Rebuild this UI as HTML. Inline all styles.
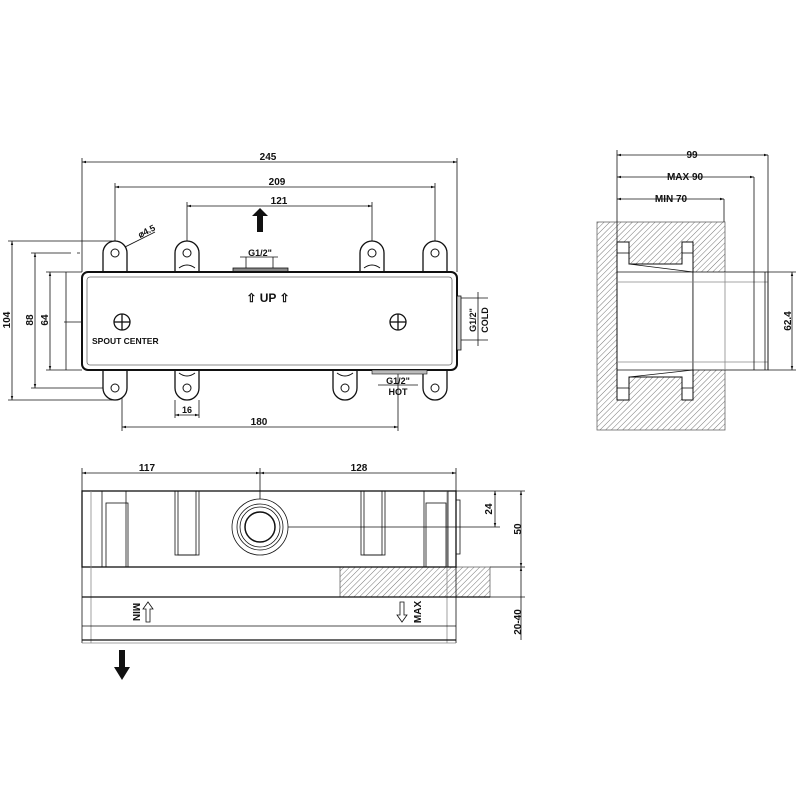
<!DOCTYPE html>
<html><head><meta charset="utf-8"><style>
html,body{margin:0;padding:0;background:#fff;}
svg{display:block;}
text{font-family:"Liberation Sans",Arial,sans-serif;font-weight:bold;fill:#111;}
</style></head><body>
<svg width="800" height="799" viewBox="0 0 800 799" xmlns="http://www.w3.org/2000/svg">
<defs>
<pattern id="h" width="4" height="4" patternUnits="userSpaceOnUse" patternTransform="rotate(45)">
<line x1="0" y1="0" x2="0" y2="4" stroke="#555" stroke-width="0.8"/>
</pattern>
<marker id="a" viewBox="0 0 10 10" refX="10" refY="5" markerWidth="7" markerHeight="5" orient="auto-start-reverse"><path d="M0,2 L10,5 L0,8z" fill="#111"/></marker>
<g id="tab" fill="#fff" stroke="#111" stroke-width="1.3">
<path d="M-12,19 L-12,0 A12,12 0 0 1 12,0 L12,19"/>
<circle cx="0" cy="0" r="4" stroke-width="1"/>
</g>
</defs>
<g stroke="#111" fill="none" stroke-width="0.8">
<!-- top dims -->
<line x1="82" y1="162" x2="457" y2="162" marker-start="url(#a)" marker-end="url(#a)"/>
<line x1="82" y1="158" x2="82" y2="272"/><line x1="457" y1="158" x2="457" y2="272"/>
<line x1="115" y1="187" x2="435" y2="187" marker-start="url(#a)" marker-end="url(#a)"/>
<line x1="115" y1="183" x2="115" y2="253"/><line x1="435" y1="183" x2="435" y2="253"/>
<line x1="187" y1="206" x2="372" y2="206" marker-start="url(#a)" marker-end="url(#a)"/>
<line x1="187" y1="202" x2="187" y2="253"/><line x1="372" y1="202" x2="372" y2="253"/>
<line x1="119" y1="250" x2="155" y2="232"/>
<!-- left dims -->
<line x1="12" y1="241" x2="12" y2="400" marker-start="url(#a)" marker-end="url(#a)"/>
<line x1="8" y1="241" x2="112" y2="241"/><line x1="8" y1="400" x2="112" y2="400"/>
<line x1="35" y1="253" x2="35" y2="388" marker-start="url(#a)" marker-end="url(#a)"/>
<line x1="31" y1="253" x2="80" y2="253" stroke-dasharray="40,6"/><line x1="31" y1="388" x2="112" y2="388"/>
<line x1="50" y1="272" x2="50" y2="370" marker-start="url(#a)" marker-end="url(#a)"/>
<line x1="46" y1="272" x2="82" y2="272"/><line x1="46" y1="370" x2="82" y2="370"/>
<line x1="66" y1="272" x2="66" y2="370"/>
<line x1="64" y1="322" x2="122" y2="322"/>
<!-- bottom dims -->
<line x1="175" y1="400" x2="175" y2="418"/><line x1="199" y1="400" x2="199" y2="418"/>
<line x1="175" y1="415" x2="199" y2="415" marker-start="url(#a)" marker-end="url(#a)"/>
<line x1="122" y1="322" x2="122" y2="431"/><line x1="398" y1="322" x2="398" y2="431"/>
<line x1="122" y1="427" x2="398" y2="427" marker-start="url(#a)" marker-end="url(#a)"/>
</g>
<!-- tabs -->
<use href="#tab" x="115" y="253"/><use href="#tab" x="187" y="253"/><use href="#tab" x="372" y="253"/><use href="#tab" x="435" y="253"/>
<use href="#tab" x="115" y="388" transform="rotate(180 115 388) translate(0 0)"/>
<g transform="rotate(180 187 388)"><use href="#tab" x="187" y="388"/></g>
<g transform="rotate(180 345 388)"><use href="#tab" x="345" y="388"/></g>
<g transform="rotate(180 435 388)"><use href="#tab" x="435" y="388"/></g>
<g stroke="#111" fill="none" stroke-width="1">
<path d="M179,268 q8,-6 16,0"/><path d="M364,268 q8,-6 16,0"/>
<path d="M179,373 q8,6 16,0"/><path d="M337,373 q8,6 16,0"/>
</g>
<!-- body top view -->
<rect x="233" y="268" width="55" height="5" fill="#888" stroke="#111" stroke-width="0.8"/>
<rect x="82" y="272" width="375" height="98" rx="6" fill="#fff" stroke="#111" stroke-width="2"/>
<rect x="87" y="277" width="365" height="88" rx="3" fill="none" stroke="#666" stroke-width="0.8"/>
<rect x="457" y="296" width="4" height="54" fill="#ccc" stroke="#111" stroke-width="0.8"/>
<rect x="372" y="370" width="55" height="4" fill="#bbb" stroke="#111" stroke-width="0.6"/>
<g stroke="#111" fill="none" stroke-width="1.3">
<circle cx="122" cy="322" r="8"/><line x1="114" y1="322" x2="130" y2="322"/><line x1="122" y1="314" x2="122" y2="330"/>
<circle cx="398" cy="322" r="8"/><line x1="390" y1="322" x2="406" y2="322"/><line x1="398" y1="314" x2="398" y2="330"/>
</g>
<g stroke="#111" stroke-width="0.8">
<line x1="246" y1="257" x2="246" y2="268"/><line x1="273" y1="257" x2="273" y2="268"/>
<line x1="240" y1="257" x2="278" y2="257"/>
<line x1="461" y1="298" x2="488" y2="298"/><line x1="461" y1="340" x2="488" y2="340"/>
<line x1="478" y1="292" x2="478" y2="346"/>
<line x1="378" y1="385" x2="418" y2="385"/>
</g>
<path d="M257,232 L263,232 L263,216 L268,216 L260,208 L252,216 L257,216z" fill="#111"/>
<text x="260" y="256" font-size="9" text-anchor="middle">G1/2"</text>
<text x="268" y="302" font-size="12" text-anchor="middle">⇧ UP ⇧</text>
<text x="92" y="344" font-size="8.5">SPOUT  CENTER</text>
<text x="398" y="384" font-size="9" text-anchor="middle">G1/2"</text>
<text x="398" y="395" font-size="9" text-anchor="middle">HOT</text>
<text transform="translate(476,320) rotate(-90)" font-size="9" text-anchor="middle">G1/2"</text>
<text transform="translate(488,320) rotate(-90)" font-size="9" text-anchor="middle">COLD</text>
<text x="268" y="160" font-size="10" text-anchor="middle">245</text>
<text x="277" y="185" font-size="10" text-anchor="middle">209</text>
<text x="279" y="204" font-size="10" text-anchor="middle">121</text>
<text transform="translate(140,238) rotate(-27)" font-size="9">⌀4.5</text>
<text transform="translate(10,320) rotate(-90)" font-size="10" text-anchor="middle">104</text>
<text transform="translate(33,320) rotate(-90)" font-size="10" text-anchor="middle">88</text>
<text transform="translate(48,320) rotate(-90)" font-size="10" text-anchor="middle">64</text>
<text x="187" y="413" font-size="9" text-anchor="middle">16</text>
<text x="259" y="425" font-size="10" text-anchor="middle">180</text>

<!-- side view -->
<rect x="597" y="222" width="128" height="208" fill="url(#h)" stroke="#666" stroke-width="0.8"/>
<path d="M617,242 L629,242 L629,264 L682,264 L682,242 L693,242 L693,400 L682,400 L682,377 L629,377 L629,400 L617,400z" fill="#fff" stroke="#111" stroke-width="1"/>
<rect x="693" y="272" width="75" height="98" fill="#fff" stroke="#111" stroke-width="0.8"/>
<g stroke="#111" stroke-width="0.8" fill="none">
<line x1="617" y1="272" x2="693" y2="272"/><line x1="617" y1="282" x2="768" y2="282" stroke="#888"/>
<line x1="617" y1="370" x2="693" y2="370"/><line x1="617" y1="362" x2="768" y2="362" stroke="#888"/>
<line x1="629" y1="264" x2="693" y2="272"/><line x1="629" y1="377" x2="693" y2="370"/>
<line x1="617" y1="388" x2="629" y2="388"/><line x1="682" y1="388" x2="693" y2="388"/>
<line x1="617" y1="253" x2="629" y2="253"/><line x1="682" y1="253" x2="693" y2="253"/>
<line x1="725" y1="272" x2="725" y2="370" stroke="#888"/>
<line x1="754" y1="177" x2="754" y2="370"/><line x1="765" y1="272" x2="765" y2="370"/>
<line x1="768" y1="155" x2="768" y2="370"/>
<line x1="617" y1="150" x2="617" y2="242"/>
<line x1="724" y1="199" x2="724" y2="222"/>
<line x1="617" y1="155" x2="768" y2="155" marker-start="url(#a)" marker-end="url(#a)"/>
<line x1="617" y1="177" x2="754" y2="177" marker-start="url(#a)" marker-end="url(#a)"/>
<line x1="617" y1="199" x2="724" y2="199" marker-start="url(#a)" marker-end="url(#a)"/>
<line x1="768" y1="272" x2="796" y2="272"/><line x1="768" y1="370" x2="796" y2="370"/>
<line x1="792" y1="272" x2="792" y2="370" marker-start="url(#a)" marker-end="url(#a)"/>
</g>
<text x="692" y="158" font-size="10" text-anchor="middle">99</text>
<text x="685" y="180" font-size="10" text-anchor="middle">MAX  90</text>
<text x="671" y="202" font-size="10" text-anchor="middle">MIN  70</text>
<text transform="translate(791,321) rotate(-90)" font-size="10" text-anchor="middle">62.4</text>

<!-- bottom view -->
<rect x="340" y="567" width="150" height="30" fill="url(#h)" stroke="#666" stroke-width="0.8"/>
<g stroke="#111" fill="none" stroke-width="0.8">
<rect x="82" y="491" width="374" height="76" stroke-width="1.3"/>
<line x1="82" y1="567" x2="82" y2="643"/><line x1="456" y1="567" x2="456" y2="643"/>
<line x1="91" y1="491" x2="91" y2="643" stroke="#888"/><line x1="447" y1="491" x2="447" y2="643" stroke="#888"/>
<line x1="82" y1="597" x2="490" y2="597" stroke-width="1.2"/>
<line x1="82" y1="626" x2="456" y2="626"/>
<line x1="82" y1="640" x2="456" y2="640" stroke-width="1.3"/>
<line x1="82" y1="643" x2="456" y2="643" stroke="#888"/>
<rect x="102" y="491" width="24" height="76"/><rect x="106" y="503" width="22" height="64"/>
<rect x="175" y="491" width="24" height="64"/><rect x="178" y="491" width="18" height="64"/>
<rect x="361" y="491" width="24" height="64"/><rect x="364" y="491" width="18" height="64"/>
<rect x="424" y="491" width="24" height="76"/><rect x="426" y="503" width="20" height="64"/>
<rect x="456" y="500" width="4" height="54"/>
<circle cx="260" cy="527" r="28"/><circle cx="260" cy="527" r="23"/><circle cx="260" cy="527" r="20"/><circle cx="260" cy="527" r="15" stroke-width="1.5"/>
<line x1="260" y1="468" x2="260" y2="499"/>
<line x1="82" y1="468" x2="82" y2="491"/><line x1="456" y1="468" x2="456" y2="491"/>
<line x1="82" y1="473" x2="260" y2="473" marker-start="url(#a)" marker-end="url(#a)"/>
<line x1="260" y1="473" x2="456" y2="473" marker-start="url(#a)" marker-end="url(#a)"/>
<line x1="288" y1="527" x2="500" y2="527"/>
<line x1="456" y1="491" x2="525" y2="491"/>
<line x1="490" y1="567" x2="525" y2="567"/><line x1="490" y1="597" x2="525" y2="597"/>
<line x1="495" y1="491" x2="495" y2="527" marker-start="url(#a)" marker-end="url(#a)"/>
<line x1="521" y1="491" x2="521" y2="567" marker-start="url(#a)" marker-end="url(#a)"/>
<line x1="521" y1="567" x2="521" y2="597" marker-start="url(#a)"/>
<line x1="521" y1="597" x2="521" y2="640"/>
<path d="M146,622 L146,609 L143,609 L148,602 L153,609 L150,609 L150,622z"/>
<path d="M400,602 L400,615 L397,615 L402,622 L407,615 L404,615 L404,602z"/>
</g>
<text x="147" y="471" font-size="10" text-anchor="middle">117</text>
<text x="359" y="471" font-size="10" text-anchor="middle">128</text>
<text transform="translate(492,509) rotate(-90)" font-size="10" text-anchor="middle">24</text>
<text transform="translate(521,529) rotate(-90)" font-size="10" text-anchor="middle">50</text>
<text transform="translate(521,622) rotate(-90)" font-size="10" text-anchor="middle">20-40</text>
<text transform="translate(133,612) rotate(90)" font-size="10" text-anchor="middle" fill="#555">MIN</text>
<text transform="translate(421,612) rotate(-90)" font-size="10" text-anchor="middle" fill="#555">MAX</text>
<path d="M119,650 L125,650 L125,667 L130,667 L122,680 L114,667 L119,667z" fill="#111"/>
</svg>
</body></html>
